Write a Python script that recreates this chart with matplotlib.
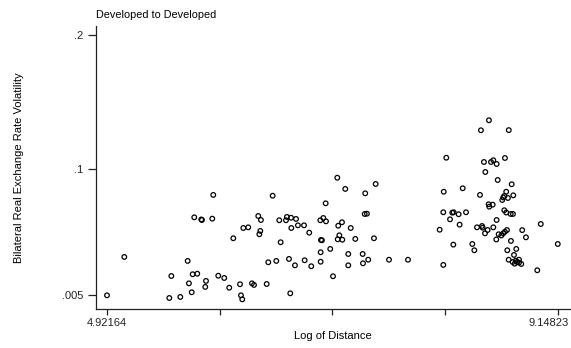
import numpy as np
import matplotlib
matplotlib.use("Agg")
import matplotlib.pyplot as plt

# ── Data (log distance vs. bilateral RER volatility) ──────────────────────────
TITLE = "Developed to Developed"
X_LABEL = "Log of Distance"
Y_LABEL = "Bilateral Real Exchange Rate Volatility"

log_dist = [
    4.92164, 5.084, 5.506, 5.609, 5.525, 5.678, 5.690, 5.716, 5.725, 5.768,
    5.740, 5.806, 5.812, 5.909, 5.918, 5.850, 5.843, 5.965, 6.021, 6.068,
    6.106, 6.169, 6.178, 6.190, 6.200, 6.246, 6.281, 6.300, 6.340, 6.365,
    6.359, 6.350, 6.419, 6.434, 6.475, 6.509, 6.537, 6.550, 6.600, 6.609,
    6.628, 6.640, 6.647, 6.650, 6.684, 6.694, 6.712, 6.769, 6.775, 6.818,
    6.837, 6.922, 6.950, 6.975, 6.925, 6.925, 6.928, 6.937, 6.972, 7.015,
    7.041, 7.081, 7.090, 7.100, 7.085, 7.128, 7.125, 7.156, 7.184, 7.184,
    7.207, 7.250, 7.319, 7.322, 7.338, 7.343, 7.359, 7.371, 7.425, 7.441,
    7.566, 7.744,
    8.041, 8.075, 8.079, 8.075, 8.103, 8.138, 8.159, 8.172, 8.169, 8.219,
    8.228, 8.257, 8.288, 8.347, 8.366, 8.391, 8.419, 8.428, 8.438, 8.444,
    8.456, 8.466, 8.469, 8.491, 8.500, 8.503, 8.506, 8.522, 8.538, 8.544,
    8.544, 8.575, 8.575, 8.572, 8.585, 8.594, 8.619, 8.637, 8.653, 8.672,
    8.628, 8.637, 8.647, 8.681, 8.647, 8.665, 8.653, 8.665, 8.675, 8.689,
    8.688, 8.707, 8.709, 8.716, 8.725, 8.728, 8.731, 8.738, 8.744, 8.754,
    8.759, 8.766, 8.785, 8.785, 8.806, 8.815, 8.850, 8.956, 8.989, 9.14823,
]

volatility = [
    0.0050, 0.0338, 0.0030, 0.0038, 0.0195, 0.0308, 0.0140, 0.0073, 0.0208, 0.0212,
    0.0635, 0.0619, 0.0615, 0.0625, 0.0803, 0.0158, 0.0113, 0.0197, 0.0180, 0.0107,
    0.0478, 0.0133, 0.0050, 0.0020, 0.0555, 0.0560, 0.0140, 0.0128, 0.0645, 0.0615,
    0.0533, 0.0508, 0.0135, 0.0298, 0.0797, 0.0308, 0.0613, 0.0448, 0.0613, 0.0638,
    0.0323, 0.0065, 0.0632, 0.0555, 0.0275, 0.0623, 0.0575, 0.0575, 0.0313, 0.0520,
    0.0268, 0.0613, 0.0630, 0.0605, 0.0373, 0.0302, 0.0465, 0.0463, 0.0740, 0.0398,
    0.0193, 0.0932, 0.0572, 0.0500, 0.0470, 0.0467, 0.0598, 0.0848, 0.0360, 0.0275,
    0.0555, 0.0473, 0.0360, 0.0290, 0.0660, 0.0815, 0.0662, 0.0317, 0.0478, 0.0885,
    0.0317, 0.0317,
    0.0542, 0.0673, 0.0827, 0.0278, 0.1082, 0.0620, 0.0670, 0.0673, 0.0430, 0.0658,
    0.0580, 0.0853, 0.0673, 0.0435, 0.0388, 0.0560, 0.0803, 0.1288, 0.0570, 0.0557,
    0.1050, 0.0515, 0.0975, 0.0540, 0.0733, 0.1363, 0.0715, 0.1050, 0.0730, 0.1063,
    0.0560, 0.1035, 0.0615, 0.0469, 0.0915, 0.0508, 0.0499, 0.0515, 0.0527, 0.0540,
    0.0765, 0.0784, 0.0795, 0.0780, 0.0688, 0.0671, 0.1080, 0.0827, 0.0388, 0.1289,
    0.0317, 0.0660, 0.0458, 0.0883, 0.0300, 0.0660, 0.0800, 0.0353, 0.0287, 0.0310,
    0.0398, 0.0300, 0.0317, 0.0295, 0.0285, 0.0539, 0.0485, 0.0238, 0.0585, 0.0435,
]

y_ticks = [0.005, 0.1, 0.2]
y_tick_labels = [".005", ".1", ".2"]

# ── Plot ──────────────────────────────────────────────────────────────────────
plt.rcParams["font.family"] = ["Liberation Sans", "DejaVu Sans"]

fig = plt.figure(figsize=(5.71, 3.48), dpi=100)
ax = fig.add_axes([0.1681, 0.1121, 0.8301, 0.8132])

ax.scatter(log_dist, volatility, s=11, facecolors="none",
           edgecolors="black", linewidths=0.9, zorder=3)

xmin, xmax = min(log_dist), max(log_dist)
ax.set_xlim(4.8185, 9.2627)
ax.set_ylim(-0.00525, 0.207)

xt = np.linspace(xmin, xmax, 5)
ax.set_xticks(xt)
ax.set_xticklabels([f"{xmin:.5f}", "", "", "", ""])
ax.set_yticks(y_ticks)
ax.set_yticklabels(y_tick_labels)

# max label drawn by hand, nudged left so it stays inside the figure
ax.annotate(f"{xmax:.5f}", xy=(xmax, 0), xycoords=ax.get_xaxis_transform(),
            xytext=(-6.5, -6.3), textcoords="offset points",
            ha="center", va="top", fontsize=8, color="#222222")

for side in ("top", "right"):
    ax.spines[side].set_visible(False)
for side in ("left", "bottom"):
    ax.spines[side].set_color("#222222")
    ax.spines[side].set_linewidth(0.9)

ax.tick_params(axis="x", length=4.3, width=0.9, pad=2, labelsize=8, colors="#222222")
ax.tick_params(axis="y", length=5.8, width=0.9, pad=3.5, labelsize=8, colors="#222222")

ax.set_xlabel(X_LABEL, fontsize=8, labelpad=2)
ax.set_ylabel(Y_LABEL, fontsize=8, labelpad=27)
ax.set_title(TITLE, fontsize=7.8, loc="left", pad=6)

fig.savefig("out.png", dpi=100)
